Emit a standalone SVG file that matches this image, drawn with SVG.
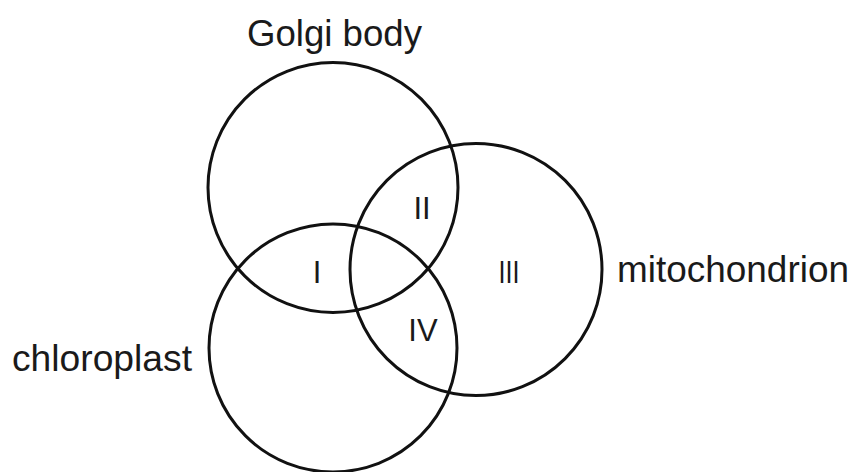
<svg xmlns="http://www.w3.org/2000/svg" width="854" height="472" viewBox="0 0 854 472">
<style>
.c{fill:none;stroke:#111;stroke-width:3}
.lbl{font-family:"Liberation Sans",Arial,sans-serif;font-size:37px;fill:#1a1a1a}
.num{font-family:"Liberation Sans",Arial,sans-serif;font-size:31px;fill:#1a1a1a;text-anchor:middle}
</style>
<rect width="854" height="472" fill="#fff"/>
<g id="golgi">
<circle class="c" cx="333" cy="187.5" r="125"/>
<text class="lbl" x="247" y="46" textLength="175" lengthAdjust="spacingAndGlyphs">Golgi body</text>
</g>
<g id="mitochondrion">
<circle class="c" cx="476" cy="269.5" r="126"/>
<text class="lbl" x="617" y="282" textLength="232" lengthAdjust="spacingAndGlyphs">mitochondrion</text>
</g>
<g id="chloroplast">
<circle class="c" cx="333" cy="348" r="124"/>
<text class="lbl" x="12" y="371" textLength="180" lengthAdjust="spacingAndGlyphs">chloroplast</text>
</g>
<g id="regions">
<text class="num" x="317" y="283">I</text>
<text class="num" x="422" y="219">II</text>
<text class="num" x="509" y="283" textLength="21" lengthAdjust="spacingAndGlyphs">III</text>
<text class="num" x="423" y="341">IV</text>
</g>
<g id="connectors"></g>
</svg>
